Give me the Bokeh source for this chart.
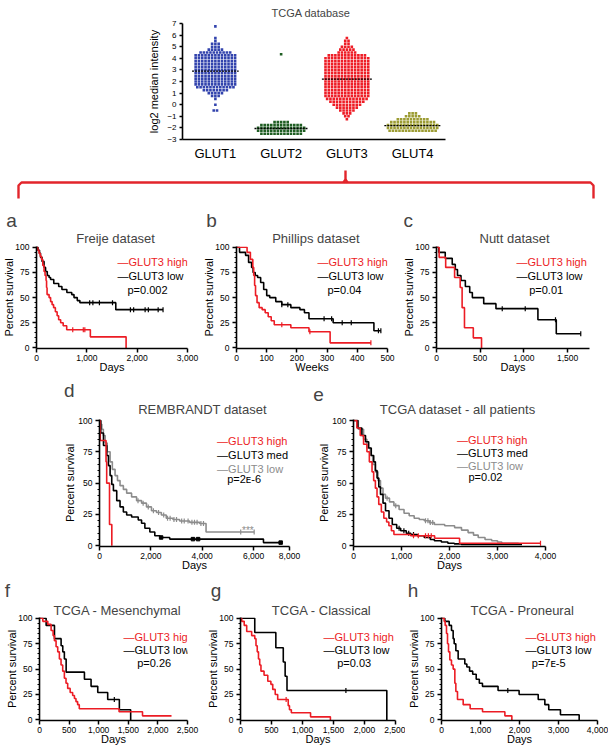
import math
from bokeh.plotting import figure
from bokeh.layouts import column, row
from bokeh.models import Label, Spacer, FixedTicker, NumeralTickFormatter, Range1d, Title
from bokeh.embed import file_html
from bokeh.resources import INLINE

FONT = "Liberation Sans"
RED = "#ec1c24"
BLACK = "#000000"
GRAY = "#8c8c8c"

# ---------------- top chart data (TCGA database) ----------------
genes = ["GLUT1", "GLUT2", "GLUT3", "GLUT4"]
gene_colors = ["#3243ad", "#1f5e23", "#ee1d26", "#9c9c33"]
gene_medians = [2.9, -2.05, 2.2, -1.8]
glut1_levels = [-0.5, 0.0, 0.5, 0.75, 1.0, 1.25, 1.5, 1.75, 2.0, 2.25, 2.5, 2.75, 3.0, 3.25, 3.5,
                3.75, 4.0, 4.25, 4.5, 4.75, 5.0, 5.25, 5.5, 5.75, 6.75]
glut1_counts = [2, 1, 1, 3, 5, 8, 12, 13, 13, 13, 13, 13, 13, 13, 13, 13, 13, 13, 10, 5, 3, 3, 1, 1, 1]
glut2_levels = [-2.5, -2.25, -2.0, -1.75, -1.5, 4.35]
glut2_counts = [13, 15, 15, 13, 5, 1]
glut3_levels = [-1.25, -1.0, -0.75, -0.5, -0.25, 0.0, 0.25, 0.5, 0.75, 1.0, 1.25, 1.5, 1.75, 2.0,
                2.25, 2.5, 2.75, 3.0, 3.25, 3.5, 3.75, 4.0, 4.25, 4.5, 4.75, 5.0, 5.25, 5.5, 5.75]
glut3_counts = [1, 2, 3, 5, 7, 9, 11, 13, 14, 14, 14, 14, 14, 14, 14, 14, 14, 14, 14, 14, 14, 14,
                12, 6, 5, 4, 2, 2, 1]
glut4_levels = [-2.25, -2.0, -1.75, -1.5, -1.25, -1.0, -0.75]
glut4_counts = [15, 16, 16, 14, 10, 5, 3]

# ---------------- Kaplan-Meier data ----------------
# a: Freije (days)
a_high_t = [0, 25, 50, 75, 100, 125, 150, 170, 190, 200, 210, 250, 280, 310, 340, 375, 410, 440, 480, 530, 600, 1070, 1780]
a_high_s = [100, 97, 94, 91, 88, 82, 76, 72, 67, 60, 53, 50, 46, 43, 40, 36, 32, 28, 25, 22, 18, 11, 0]
a_high_c = [720, 930, 960]
a_low_t = [0, 30, 60, 80, 110, 150, 180, 214, 250, 280, 343, 441, 505, 603, 700, 745, 810, 862, 1575, 2514]
a_low_s = [100, 97, 94, 90, 86, 80, 76, 72, 70, 68, 64, 61, 58, 55, 53, 50, 47, 45, 38, 38]
a_low_c = [1056, 1120, 1250, 1510, 1866, 1930, 2158, 2222, 2417, 2514]

# b: Phillips (weeks)
b_high_t = [0, 35, 46, 54, 57, 60, 63, 68, 75, 85, 95, 105, 115, 125, 180, 240, 310, 445]
b_high_s = [100, 95, 88, 80, 72, 62, 52, 45, 40, 38, 35, 31, 27, 23, 20, 16, 5, 5]
b_high_c = [150, 243, 445]
b_low_t = [0, 10, 30, 40, 50, 55, 62, 70, 80, 90, 100, 110, 130, 150, 180, 210, 225, 240, 320, 455, 478]
b_low_s = [100, 95, 92, 85, 80, 75, 72, 70, 65, 58, 52, 50, 46, 43, 40, 38, 35, 29, 25, 17, 17]
b_low_c = [150, 170, 290, 315, 350, 380, 470, 478]

# c: Nutt (days)
c_high_t = [0, 30, 105, 207, 271, 293, 320, 421, 515]
c_high_s = [100, 90, 80, 70, 60, 40, 20, 10, 0]
c_low_t = [0, 25, 100, 180, 215, 240, 280, 330, 380, 410, 540, 680, 1160, 1370, 1650]
c_low_s = [100, 95, 89, 83, 78, 72, 67, 61, 55, 50, 44, 39, 28, 14, 14]
c_low_c = [752, 1015, 1361, 1650]

# d: REMBRANDT (days)
d_high_t = [0, 30, 255, 280, 390, 480]
d_high_s = [100, 84, 67, 50, 17, 0]
d_med_t = [0, 50, 155, 284, 348, 413, 477, 542, 671, 800, 929, 1058, 1251, 1509, 1638, 1767, 1961,
           2154, 2348, 2735, 6386, 7056]
d_med_s = [100, 90, 80, 72, 64, 56, 49, 44, 36, 31, 27, 24.5, 23, 20.5, 18, 14, 11, 8, 6.6, 5.3, 2.5, 2.5]
d_med_c = [2400, 3640, 3840, 7056]
d_low_t = [0, 45, 90, 150, 220, 300, 413, 500, 606, 700, 800, 930, 1058, 1250, 1445, 1640, 1830,
           2025, 2220, 2410, 2600, 2860, 3120, 3510, 3900, 4150, 6024]
d_low_s = [100, 97, 93, 88, 82, 75, 67, 61, 56, 52, 48, 45, 42, 39, 36, 34, 31, 28, 26.5, 24.5, 22,
           21, 19.7, 18.7, 17.8, 11, 11]
d_low_c = [1500, 1700, 1900, 2100, 2300, 2500, 2650, 2750, 2900, 3000, 3200, 3300, 3450, 3600,
           3700, 3800, 3950, 4050, 5500, 6024]

# e: TCGA all patients (days)
e_high_t = [0, 70, 140, 210, 280, 330, 386, 420, 456, 490, 526, 580, 632, 690, 737, 790, 842, 1190, 1690, 2210, 3896]
e_high_s = [100, 94, 88, 81, 75, 67, 59, 52, 46, 39, 33, 27, 22, 19, 16, 12, 9, 8, 6, 2, 2]
e_high_c = [1250, 1350, 1500, 1560, 1620, 3896]
e_med_t = [0, 90, 175, 250, 316, 370, 421, 456, 491, 527, 562, 615, 667, 740, 808, 900, 983, 1100,
           1193, 1330, 1474, 1600, 1685, 1830, 1966, 2100, 2247, 3510]
e_med_s = [100, 94, 88, 83, 78, 72, 67, 60, 54, 47, 41, 34, 28, 22, 17, 14, 12, 10, 9, 8, 6.6, 5, 4,
           3, 2, 1.5, 1, 1]
e_med_c = [950, 1050, 1150, 1250]
e_low_t = [0, 100, 210, 280, 350, 400, 456, 510, 562, 615, 667, 750, 842, 950, 1053, 1160, 1264, 1370,
           1474, 1580, 1685, 1900, 2106, 2250, 2387, 2500, 2598, 2740, 2879, 3000, 3089, 3440]
e_low_s = [100, 93, 85, 78, 72, 65, 59, 52, 46, 41, 38, 35, 32, 29, 26, 24, 22, 21, 20, 18.5, 17, 16,
           14.5, 12.5, 10.5, 8.5, 6.6, 5, 4, 3, 2, 2]
e_low_c = [700, 880, 1500, 1550, 1600, 1650]

# f: TCGA Mesenchymal (days)
f_high_t = [0, 56, 140, 196, 230, 252, 280, 308, 336, 364, 392, 420, 448, 476, 518, 560, 590, 616, 644, 672, 1344, 1740, 2230]
f_high_s = [100, 97, 94, 88, 83, 78, 72, 67, 60, 54, 48, 41, 36, 31, 27, 24, 21, 18, 15, 11, 8, 4, 4]
f_low_t = [0, 112, 253, 365, 393, 420, 450, 759, 871, 984, 1152, 1349, 1540]
f_low_s = [100, 93, 80, 73, 67, 60, 47, 40, 33, 27, 20, 10, 0]
f_low_c = [1264]

# g: TCGA Classical (days)
g_high_t = [0, 20, 60, 100, 180, 230, 250, 270, 290, 310, 330, 380, 440, 490, 520, 560, 600, 770, 790, 820, 1130, 1450]
g_high_s = [100, 97, 93, 87, 83, 80, 73, 67, 60, 54, 48, 44, 38, 35, 30, 25, 20, 14, 10, 7, 3, 0]
g_high_c = [736]
g_low_t = [0, 230, 570, 690, 720, 750, 2360]
g_low_s = [100, 86, 71, 57, 43, 29, 0]
g_low_c = [1700]

# h: TCGA Proneural (days)
h_high_t = [0, 68, 94, 128, 154, 180, 214, 256, 299, 342, 368, 410, 556, 735, 1052, 1625, 1804]
h_high_s = [100, 97, 93, 85, 75, 67, 59, 54, 50, 36, 28, 20, 15, 11, 8, 4, 0]
h_low_t = [0, 85, 197, 256, 299, 325, 368, 427, 598, 650, 720, 800, 890, 970, 1050, 1450, 1990,
           2480, 2650, 2750, 3050, 3530]
h_low_s = [100, 97, 93, 88, 80, 75, 68, 60, 55, 52, 48, 45, 40, 36, 33, 29, 25, 20, 15, 10, 5, 0]
h_low_c = [1700]


def surv_at(t, ts, ss):
    val = ss[0]
    for ti, si in zip(ts, ss):
        if ti <= t:
            val = si
    return val


def style_axes(p, tick_size="8.5px"):
    p.xgrid.visible = False
    p.ygrid.visible = False
    p.outline_line_color = None
    p.background_fill_color = "white"
    p.border_fill_color = "white"
    for ax in (p.xaxis[0], p.yaxis[0]):
        ax.axis_line_width = 1.6
        ax.axis_line_color = "black"
        ax.major_tick_line_width = 1.5
        ax.minor_tick_line_width = 1.0
        ax.major_tick_in = 0
        ax.major_tick_out = 4
        ax.minor_tick_in = 0
        ax.minor_tick_out = 2
        ax.major_label_text_font = FONT
        ax.major_label_text_font_size = tick_size
        ax.major_label_text_color = "black"
        ax.major_label_standoff = 2
        ax.axis_label_text_font = FONT
        ax.axis_label_text_font_style = "normal"
        ax.axis_label_text_color = "black"
        ax.axis_label_text_font_size = "11px"


def add_label(p, x, y, text, size, color="black", align="left", baseline="alphabetic"):
    p.add_layout(Label(x=x, y=y, x_units="screen", y_units="screen", text=text,
                       text_font=FONT, text_font_size=size, text_color=color,
                       text_align=align, text_baseline=baseline))


def km_panel(spec):
    W, H = spec["width"], spec["height"]
    L, R, T, B = spec["left"], spec["right"], spec["top"], spec["bottom"]
    fh = H - T - B
    p = figure(width=W, height=H, x_range=Range1d(0, spec["xmax"]), y_range=Range1d(-0.6, 100.8),
               output_backend="svg", toolbar_location=None, title=spec["letter"],
               min_border_left=L, min_border_right=R, min_border_top=T, min_border_bottom=B)
    style_axes(p)
    p.xaxis[0].ticker = FixedTicker(ticks=spec["xticks"], minor_ticks=[])
    p.xaxis[0].formatter = NumeralTickFormatter(format="0,0")
    if spec.get("overrides"):
        p.xaxis[0].major_label_overrides = spec["overrides"]
    p.yaxis[0].ticker = FixedTicker(ticks=[0, 25, 50, 75, 100], minor_ticks=list(range(0, 101, 5)))
    p.yaxis[0].major_label_standoff = 3
    p.yaxis[0].axis_label = "Percent survival"
    p.yaxis[0].axis_label_standoff = spec.get("ylab_standoff", -3)
    p.xaxis[0].axis_label = spec["xlabel"]
    p.xaxis[0].axis_label_standoff = spec.get("xlab_standoff", -3)

    # outer title: panel letter
    p.title.text_font = FONT
    p.title.text_font_size = "19px"
    p.title.text_font_style = "normal"
    p.title.align = "left"
    p.title.offset = spec["letter_dx"] - 3
    p.title.standoff = spec["letter_standoff"]
    # inner title: dataset name
    p.add_layout(Title(text=spec["title"], align="left", offset=spec["title_x"] - 2,
                       text_font=FONT, text_font_size="13px", text_font_style="normal",
                       standoff=spec["title_standoff"]), "above")

    for (ts, ss, cs, color, cmark) in spec["curves"]:
        p.step(ts, ss, mode="after", line_color=color, line_width=1.6)
        if cs:
            ys = [surv_at(c, ts, ss) for c in cs]
            if cmark == "square":
                p.scatter(cs, ys, marker="square", size=3.5, fill_color=color, line_color=color)
            else:
                p.scatter(cs, ys, marker="dash", angle=math.pi / 2, size=5, line_color=color, line_width=1.2)

    # legend (inside the frame)
    for (txt, color), dy in zip(spec["legend"], spec["legend_rows"]):
        add_label(p, spec["leg_x"], fh - dy, "\u2014" + txt, "11px", color=color)
    add_label(p, spec["p_x"], fh - spec["p_row"], spec["ptext"], "11px")
    if spec.get("extra"):
        ex = spec["extra"]
        p.add_layout(Label(x=ex[0], y=ex[1], text=ex[2], text_font=FONT, text_font_size="10px",
                           text_color=GRAY, text_align="left", text_baseline="alphabetic"))
    return p


# ---------------- top chart ----------------
def swarm(levels, counts, center, dx):
    xs, ys = [], []
    for lv, n in zip(levels, counts):
        for i in range(n):
            xs.append(center + (i - (n - 1) / 2) * dx)
            ys.append(lv)
    return xs, ys


TOP_L, TOP_R, TOP_T, TOP_B = 42, 15, 22, 27
top = figure(width=TOP_L + 263 + TOP_R, height=TOP_T + 117 + TOP_B,
             x_range=Range1d(-0.5, 3.5), y_range=Range1d(-3, 7), title="TCGA database",
             output_backend="svg", toolbar_location=None,
             min_border_left=TOP_L, min_border_right=TOP_R, min_border_top=TOP_T, min_border_bottom=TOP_B)
style_axes(top, tick_size="8px")
top.title.text_font = FONT
top.title.text_font_size = "11px"
top.title.text_font_style = "normal"
top.title.align = "left"
top.title.offset = 89
top.title.standoff = 9
top.yaxis[0].ticker = FixedTicker(ticks=list(range(-3, 8)), minor_ticks=[])
top.yaxis[0].major_tick_out = 3
top.yaxis[0].major_label_standoff = 3
top.yaxis[0].axis_label = "log2 median intensity"
top.yaxis[0].axis_label_standoff = 4
top.xaxis[0].ticker = FixedTicker(ticks=[0, 1, 2, 3], minor_ticks=[])
top.xaxis[0].major_label_overrides = {i: g for i, g in enumerate(genes)}
top.xaxis[0].major_tick_out = 0
top.xaxis[0].major_label_standoff = 6
top.xaxis[0].major_label_text_font_size = "13px"

all_levels = [glut1_levels, glut2_levels, glut3_levels, glut4_levels]
all_counts = [glut1_counts, glut2_counts, glut3_counts, glut4_counts]
for i in range(4):
    xs, ys = swarm(all_levels[i], all_counts[i], i, 0.05)
    top.scatter(xs, ys, marker="square", size=2.6, fill_color=gene_colors[i], line_color=None)
    half = max(all_counts[i]) * 0.05 / 2 + 0.03
    top.segment([i - half], [gene_medians[i]], [i + half], [gene_medians[i]],
                line_color="black", line_width=1.3, line_dash="2 1")

# ---------------- bracket ----------------
br = figure(width=610, height=35, x_range=Range1d(0, 610), y_range=Range1d(35, 0),
            output_backend="svg", toolbar_location=None,
            min_border_left=0, min_border_right=0, min_border_top=0, min_border_bottom=0)
br.axis.visible = False
br.grid.visible = False
br.outline_line_color = None
br.line([18, 18, 21, 590, 593, 593], [32, 19, 16, 16, 19, 32], line_color="#e2252b", line_width=2.4)
br.line([343, 345, 345], [16, 13, 4], line_color="#e2252b", line_width=2.4)
br.line([347, 345], [16, 13], line_color="#e2252b", line_width=2.4)

# ---------------- KM panels ----------------
two = [("GLUT3 high", RED), ("GLUT3 low", BLACK)]
three = [("GLUT3 high", RED), ("GLUT3 med", BLACK), ("GLUT3 low", GRAY)]

row2_common = dict(height=174, top=45, bottom=27, title_standoff=2, letter_standoff=-7,
                   legend_rows=[15.6, 29.3], p_row=43)
row3_common = dict(height=199, top=44, bottom=28, title_standoff=6, letter_standoff=-8)
row4_common = dict(height=174, top=43, bottom=28, title_standoff=0, letter_standoff=0,
                   legend_rows=[19.4, 32], p_row=45.4)

pa = km_panel(dict(row2_common, width=200, left=32, right=13, xmax=3000, xticks=[0, 1000, 2000, 3000],
                   letter="a", letter_dx=-27.3, title="Freije dataset", title_x=41.7, xlabel="Days",
                   curves=[(a_low_t, a_low_s, a_low_c, BLACK, "dash"), (a_high_t, a_high_s, a_high_c, RED, "dash")],
                   legend=two, leg_x=81, p_x=91, ptext="p=0.002"))
pb = km_panel(dict(row2_common, width=200, left=32, right=13, xmax=500, xticks=[0, 100, 200, 300, 400, 500],
                   letter="b", letter_dx=-27.3, title="Phillips dataset", title_x=37.7, xlabel="Weeks",
                   curves=[(b_low_t, b_low_s, b_low_c, BLACK, "dash"), (b_high_t, b_high_s, b_high_c, RED, "dash")],
                   legend=two, leg_x=81, p_x=91, ptext="p=0.04"))
pc = km_panel(dict(row2_common, width=201, left=33, right=12, xmax=1750, xticks=[0, 500, 1000, 1500],
                   letter="c", letter_dx=-30, title="Nutt dataset", title_x=45, xlabel="Days",
                   curves=[(c_low_t, c_low_s, c_low_c, BLACK, "dash"), (c_high_t, c_high_s, [], RED, "dash")],
                   legend=two, leg_x=80, p_x=92.7, ptext="p=0.01"))
pd_ = km_panel(dict(row3_common, width=249, left=39, right=20, xmax=7400,
                    xticks=[0, 2000, 4000, 6000, 7400], overrides={7400: "8,000"},
                    letter="d", letter_dx=-32.6, title="REMBRANDT dataset", title_x=40.7,
                    xlabel="Days", ylab_standoff=-1,
                    curves=[(d_low_t, d_low_s, d_low_c, GRAY, "dash"), (d_med_t, d_med_s, d_med_c, BLACK, "square"),
                            (d_high_t, d_high_s, [], RED, "dash")],
                    legend=three, legend_rows=[21.7, 35.7, 49], leg_x=117.6, p_x=127.7, p_row=59,
                    ptext="p=2\u1d07-6", extra=(5550, 11.8, "***")))
pe = km_panel(dict(row3_common, width=251, left=44, right=15, xmax=4000, xticks=[0, 1000, 2000, 3000, 4000],
                   letter="e", letter_dx=-37.3, title="TCGA dataset - all patients", title_x=28.3,
                   xlabel="Days", ylab_standoff=-1,
                   curves=[(e_low_t, e_low_s, e_low_c, GRAY, "dash"), (e_med_t, e_med_s, e_med_c, BLACK, "dash"),
                           (e_high_t, e_high_s, e_high_c, RED, "dash")],
                   legend=three, legend_rows=[20, 33.3, 46.7], leg_x=103.5, p_x=115, p_row=57.7,
                   ptext="p=0.02"))
pf = km_panel(dict(row4_common, width=200, left=39, right=13, xmax=2500, xticks=[0, 500, 1000, 1500, 2000, 2500],
                   letter="f", letter_dx=-31.7, title="TCGA - Mesenchymal", title_x=16, xlabel="Days",
                   curves=[(f_low_t, f_low_s, f_low_c, BLACK, "dash"), (f_high_t, f_high_s, [], RED, "dash")],
                   legend=two, leg_x=84, p_x=97.7, ptext="p=0.26"))
pg = km_panel(dict(row4_common, width=205, left=40, right=10, xmax=2500, xticks=[0, 500, 1000, 1500, 2000, 2500],
                   letter="g", letter_dx=-26.7, title="TCGA - Classical", title_x=33.3, xlabel="Days",
                   curves=[(g_low_t, g_low_s, g_low_c, BLACK, "dash"), (g_high_t, g_high_s, g_high_c, RED, "dash")],
                   legend=two, leg_x=83, p_x=96.7, ptext="p=0.03"))
ph = km_panel(dict(row4_common, width=203, left=36, right=11, xmax=4000, xticks=[0, 1000, 2000, 3000, 4000],
                   letter="h", letter_dx=-30.7, title="TCGA - Proneural", title_x=31, xlabel="Days",
                   curves=[(h_low_t, h_low_s, h_low_c, BLACK, "dash"), (h_high_t, h_high_s, [], RED, "dash")],
                   legend=two, leg_x=84, p_x=90.3, ptext="p=7\u1d07-5"))

layout = column(
    row(Spacer(width=140, height=166), top),
    br,
    row(pa, pb, pc),
    row(Spacer(width=60, height=199), pd_, pe),
    row(pf, pg, ph),
)

open("out.html", "w").write(file_html(layout, INLINE))
